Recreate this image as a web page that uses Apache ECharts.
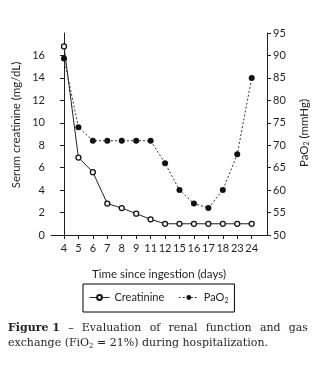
<!DOCTYPE html>
<html><head><meta charset="utf-8">
<script src="https://cdn.jsdelivr.net/npm/echarts@6/dist/echarts.min.js"></script>
<style>html,body{margin:0;padding:0;background:#fff}#c{width:331px;height:374px}</style>
</head><body><div id="c"></div>
<script>
var days = ['4','5','6','7','8','9','11','12','15','16','17','18','23','24'];
var creatinine = [16.8, 6.9, 5.6, 2.8, 2.4, 1.9, 1.4, 1.0, 1.0, 1.0, 1.0, 1.0, 1.0, 1.0];
var pao2 = [89.3, 74, 71, 71, 71, 71, 71, 66, 60, 57, 56, 60, 68, 85];
var leftTicks = [0, 2, 4, 6, 8, 10, 12, 14, 16];
var captionLine1 = ['Figure 1', '–', 'Evaluation', 'of', 'renal', 'function', 'and', 'gas'];

var FONT = 'Lato';
var CAPFONT = 'DejaVu Serif';
var CAPSIZE = 11;
var TXT = '#231f20';
var idx = days.map(function(d, i){ return i; });
function pairs(arr){ return arr.map(function(v, i){ return [i, v]; }); }

// justified first caption line
var cv = document.createElement('canvas').getContext('2d');
function w(word, bold){ cv.font = (bold ? 'bold ' : '') + CAPSIZE + 'px "' + CAPFONT + '"'; return cv.measureText(word).width; }
var capLeft = 8, capRight = 308;
var widths = captionLine1.map(function(s, i){ return w(s, i === 0); });
var total = widths.reduce(function(a, b){ return a + b; }, 0);
var gap = (capRight - capLeft - total) / (captionLine1.length - 1);
var capGraphics = [];
var cx = capLeft;
captionLine1.forEach(function(s, i){
  capGraphics.push({type: 'text', x: cx, y: 323,
    style: {text: s, fontFamily: CAPFONT, fontSize: CAPSIZE, fontWeight: i === 0 ? 'bold' : 'normal', fill: TXT}});
  cx += widths[i] + gap;
});
capGraphics.push({
  type: 'text', x: 8, y: 337,
  style: {text: 'exchange (FiO{s|2} = 21%) during hospitalization.', fontFamily: CAPFONT, fontSize: CAPSIZE, fill: TXT,
    rich: {s: {fontSize: 7, fontFamily: CAPFONT, fill: TXT, padding: [6, 0, 0, 0]}}}
});

var chart = echarts.init(document.getElementById('c'), null, {renderer:'canvas'});
chart.setOption({
  animation: false,
  backgroundColor: '#fff',
  textStyle: {fontFamily: FONT, color: TXT},
  grid: {left: 51, right: 64, top: 33, bottom: 139, containLabel: false},
  xAxis: {
    type: 'value', min: -0.9, max: 14.06,
    axisLine: {show: true, onZero: false, lineStyle: {color: TXT, width: 1}},
    axisTick: {show: true, customValues: idx, length: 4, lineStyle: {color: TXT}},
    axisLabel: {customValues: idx, formatter: function(v){ return days[Math.round(v)]; },
      fontFamily: FONT, fontSize: 11, color: TXT, margin: 8},
    splitLine: {show: false},
    name: 'Time since ingestion (days)', nameLocation: 'middle', nameGap: 33,
    nameTextStyle: {fontFamily: FONT, fontSize: 11.5, color: TXT}
  },
  yAxis: [{
    type: 'value', min: 0, max: 18, interval: 2, position: 'left',
    axisLine: {show: true, lineStyle: {color: TXT, width: 1}},
    axisTick: {show: true, customValues: leftTicks, length: 4, lineStyle: {color: TXT}},
    axisLabel: {customValues: leftTicks, fontFamily: FONT, fontSize: 11, color: TXT, margin: 6},
    splitLine: {show: false}
  }, {
    type: 'value', min: 50, max: 95, interval: 5, position: 'right',
    axisLine: {show: true, lineStyle: {color: TXT, width: 1}},
    axisTick: {show: true, length: 4, lineStyle: {color: TXT}},
    axisLabel: {fontFamily: FONT, fontSize: 11, color: TXT, margin: 6},
    splitLine: {show: false}
  }],
  legend: {
    left: 83, top: 284,
    borderColor: '#000', borderWidth: 1, padding: [8, 6, 8, 6],
    itemWidth: 20, itemHeight: 6, itemGap: 14,
    lineStyle: {width: 1},
    textStyle: {fontFamily: FONT, fontSize: 11, color: TXT, rich: {sub: {fontSize: 7, padding:[6,0,0,0], fontFamily: FONT, color: TXT}}},
    formatter: function(n){ return n === 'PaO2' ? 'PaO{sub|2}' : n; },
    data: ['Creatinine', 'PaO2']
  },
  series: [{
    name: 'Creatinine', type: 'line', yAxisIndex: 0,
    data: pairs(creatinine),
    symbol: 'circle', symbolSize: 5,
    itemStyle: {color: '#fff', borderColor: '#111', borderWidth: 1.3},
    lineStyle: {color: '#222', width: 1}
  }, {
    name: 'PaO2', type: 'line', yAxisIndex: 1,
    data: pairs(pao2),
    symbol: 'circle', symbolSize: 6,
    itemStyle: {color: '#111', borderColor: '#111', borderWidth: 0},
    lineStyle: {color: '#333', width: 1, type: [2, 2]}
  }],
  graphic: [{
    type: 'text', x: 16, y: 125, rotation: Math.PI / 2,
    style: {text: 'Serum creatinine (mg/dL)', fontFamily: FONT, fontSize: 11.5, fill: TXT,
      textAlign: 'center', textVerticalAlign: 'middle'}
  }, {
    type: 'text', x: 304, y: 133, rotation: Math.PI / 2,
    style: {text: 'PaO{s|2} (mmHg)', fontFamily: FONT, fontSize: 11.5, fill: TXT,
      textAlign: 'center', textVerticalAlign: 'middle',
      rich: {s: {fontSize: 7, fontFamily: FONT, fill: TXT, padding: [6, 0, 0, 0]}}}
  }].concat(capGraphics)
});
</script>
</body></html>
